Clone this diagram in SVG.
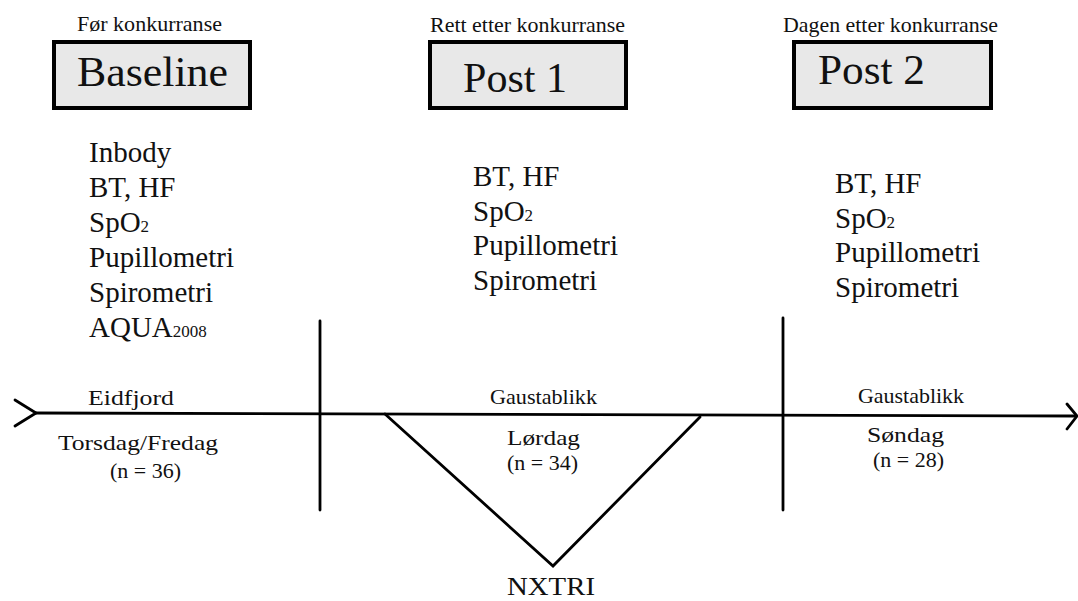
<svg xmlns="http://www.w3.org/2000/svg" width="1078" height="601" viewBox="0 0 1078 601" font-family="'Liberation Serif', 'Times New Roman', Tinos, serif">
<style>
text{font-family:'Liberation Serif','Times New Roman',Tinos,serif;fill:#111}
.hd{font-size:21px}
.bx{fill:#e8e8e8;stroke:#000;stroke-width:4}
.bl{font-size:42px}
.ls{font-size:29px}
.sub{font-size:17px}
.sm{font-size:21px}
.ln{fill:none;stroke:#000;stroke-width:2.8;stroke-linecap:round;stroke-linejoin:miter}
</style>
<rect width="1078" height="601" fill="#fff"/>
<g id="baseline">
<text class="hd" x="77" y="31" textLength="145" lengthAdjust="spacingAndGlyphs">Før konkurranse</text>
<rect class="bx" x="54" y="42" width="196" height="66"/>
<text class="bl" x="77" y="86" textLength="151" lengthAdjust="spacingAndGlyphs">Baseline</text>
<text class="ls" x="89" y="162">Inbody</text>
<text class="ls" x="89" y="197">BT, HF</text>
<text class="ls" x="89" y="232">SpO<tspan class="sub">2</tspan></text>
<text class="ls" x="89" y="267">Pupillometri</text>
<text class="ls" x="89" y="302">Spirometri</text>
<text class="ls" x="89" y="337">AQUA<tspan class="sub">2008</tspan></text>
</g>
<g id="post1">
<text class="hd" x="430" y="32" textLength="195" lengthAdjust="spacingAndGlyphs">Rett etter konkurranse</text>
<rect class="bx" x="430" y="42" width="196" height="66"/>
<text class="bl" x="463" y="92" textLength="104" lengthAdjust="spacingAndGlyphs">Post 1</text>
<text class="ls" x="473" y="186">BT, HF</text>
<text class="ls" x="473" y="221">SpO<tspan class="sub">2</tspan></text>
<text class="ls" x="473" y="255">Pupillometri</text>
<text class="ls" x="473" y="290">Spirometri</text>
</g>
<g id="post2">
<text class="hd" x="783" y="32" textLength="215" lengthAdjust="spacingAndGlyphs">Dagen etter konkurranse</text>
<rect class="bx" x="794" y="42" width="197" height="66"/>
<text class="bl" x="818" y="84" textLength="107" lengthAdjust="spacingAndGlyphs">Post 2</text>
<text class="ls" x="835" y="193">BT, HF</text>
<text class="ls" x="835" y="228">SpO<tspan class="sub">2</tspan></text>
<text class="ls" x="835" y="262">Pupillometri</text>
<text class="ls" x="835" y="297">Spirometri</text>
</g>
<g id="connectors">
<path class="ln" d="M35 413 L1076 416"/>
<path class="ln" d="M15 400 L36 413 L15 426"/>
<path class="ln" d="M1067 404 L1077 416 L1067 429"/>
<path class="ln" d="M320 321 V510"/>
<path class="ln" d="M783 318 V510"/>
<path class="ln" d="M385 414 L553 566 L700 417"/>
</g>
<g id="labels">
<text class="sm" x="88" y="405" textLength="86" lengthAdjust="spacingAndGlyphs">Eidfjord</text>
<text class="sm" x="58" y="450" textLength="160" lengthAdjust="spacingAndGlyphs">Torsdag/Fredag</text>
<text class="sm" x="110" y="478" textLength="71" lengthAdjust="spacingAndGlyphs">(n = 36)</text>
<text class="sm" x="490" y="404" textLength="107" lengthAdjust="spacingAndGlyphs">Gaustablikk</text>
<text class="sm" x="507" y="445" textLength="73" lengthAdjust="spacingAndGlyphs">Lørdag</text>
<text class="sm" x="507" y="470" textLength="71" lengthAdjust="spacingAndGlyphs">(n = 34)</text>
<text class="sm" x="858" y="403" textLength="106" lengthAdjust="spacingAndGlyphs">Gaustablikk</text>
<text class="sm" x="867" y="442" textLength="77" lengthAdjust="spacingAndGlyphs">Søndag</text>
<text class="sm" x="873" y="467" textLength="71" lengthAdjust="spacingAndGlyphs">(n = 28)</text>
<text x="507" y="595" font-size="26" textLength="88" lengthAdjust="spacingAndGlyphs">NXTRI</text>
</g>
</svg>
